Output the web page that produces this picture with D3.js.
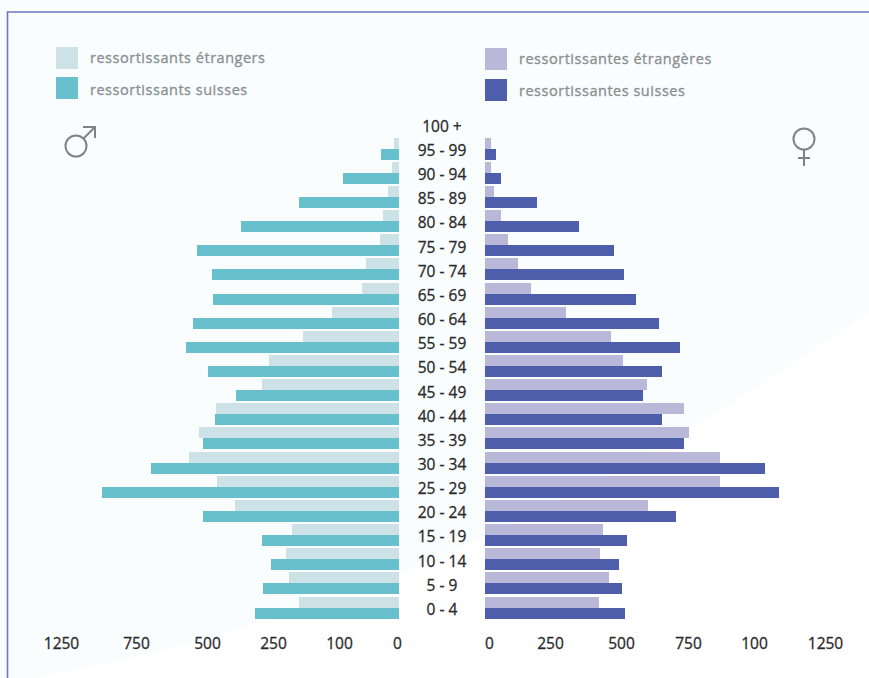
<!DOCTYPE html>
<html><head><meta charset="utf-8">
<script src="https://cdn.jsdelivr.net/npm/d3@7/dist/d3.min.js"></script>
<style>html,body{margin:0;padding:0;background:#fff;overflow:hidden}svg{display:block}text{font-family:"Open Sans",sans-serif}</style>
</head><body><script>
const ageGroups=["100 +","95 - 99","90 - 94","85 - 89","80 - 84","75 - 79","70 - 74","65 - 69","60 - 64","55 - 59","50 - 54","45 - 49","40 - 44","35 - 39","30 - 34","25 - 29","20 - 24","15 - 19","10 - 14","5 - 9","0 - 4"];
const menForeign=[0,19,26,41,60,71,123,138,250,358,485,511,683,746,784,679,612,399,422,410,373];
const menSwiss=[0,67,209,373,590,754,698,694,769,795,713,608,687,731,925,1108,731,511,478,507,537];
const womenForeign=[0,22,22,34,60,86,123,172,302,470,515,604,743,761,877,877,608,440,429,463,425];
const womenSwiss=[0,41,60,194,351,481,519,563,649,728,660,590,660,743,1045,1097,713,530,500,511,522];
const tickValues=[0,250,500,750,1000,1250];
const tickLabelsMen=["0","100","250","500","750","1250"];
const tickLabelsWomen=["0","250","500","750","100","1250"];
const legendMen=["ressortissants étrangers","ressortissants suisses"];
const legendWomen=["ressortissantes étrangères","ressortissantes suisses"];

const W=869,H=678;
const colors={mf:"#cde2e7",ms:"#68c0cd",wf:"#b9b8d8",ws:"#4f5eab"};
const svg=d3.select("body").append("svg").attr("width",W).attr("height",H);

svg.append("rect").attr("width",W).attr("height",H).attr("fill","#fff");
svg.append("path").attr("d","M0,0L869,0L869,312C700,430 420,610 33,678L0,678Z").attr("fill","#f9fdfe");
svg.append("path").attr("d","M869,12L7.5,12L7.5,678").attr("fill","none").attr("stroke","#6b78bb").attr("stroke-width",1.6);

const y=d3.scaleBand().domain(ageGroups).range([113.94,621.26]);
const sub=d3.scaleBand().domain(["foreign","swiss"]).range([0,22]);
const xMen=d3.scaleLinear().domain([0,1250]).range([399,64]);
const xWomen=d3.scaleLinear().domain([0,1250]).range([485,820]);

function bars(values,x,key,color){
  svg.append("g").attr("shape-rendering","crispEdges").selectAll("rect").data(values).join("rect")
    .attr("x",d=>Math.min(x(0),x(d)))
    .attr("width",d=>Math.abs(x(d)-x(0)))
    .attr("y",(d,i)=>Math.floor(y(ageGroups[i]))+sub(key))
    .attr("height",sub.bandwidth())
    .attr("fill",color);
}
bars(menForeign,xMen,"foreign",colors.mf);
bars(womenForeign,xWomen,"foreign",colors.wf);
bars(menSwiss,xMen,"swiss",colors.ms);
bars(womenSwiss,xWomen,"swiss",colors.ws);

svg.append("g").selectAll("text").data(ageGroups).join("text")
  .attr("x",442).attr("y",d=>y(d)+sub("swiss")+1.4)
  .attr("dy","0.35em").attr("text-anchor","middle")
  .attr("font-size",15.5).attr("fill","#2a2a2c").attr("stroke","#2a2a2c").attr("stroke-width",0.3).text(d=>d);

const axisMen=d3.scaleLinear().domain(tickValues).range([397,339,273,207,136,61]);
const axisWomen=d3.scaleLinear().domain(tickValues).range([489,550,621,688,754,825]);
[[axisMen,tickLabelsMen],[axisWomen,tickLabelsWomen]].forEach(([s,labels])=>{
  const g=svg.append("g").attr("transform","translate(0,632)")
    .call(d3.axisBottom(s).tickValues(tickValues).tickSize(0).tickPadding(0).tickFormat((d,i)=>labels[i]));
  g.select(".domain").remove();
  g.selectAll("text").attr("dy","1.1em").attr("font-size",15.5)
    .attr("fill","#2a2a2c").attr("stroke","#2a2a2c").attr("stroke-width",0.3).style("font-family",'"Open Sans",sans-serif');
});

function legend(labels,cols,xs,xt,ys,yt){
  const g=svg.append("g");
  g.selectAll("rect").data(labels).join("rect")
    .attr("x",xs).attr("y",(d,i)=>ys[i]).attr("width",22).attr("height",22).attr("fill",(d,i)=>cols[i]);
  g.selectAll("text").data(labels).join("text")
    .attr("x",xt).attr("y",(d,i)=>yt[i]).attr("dy","0.35em")
    .attr("font-size",14.5).attr("letter-spacing",0.52).attr("fill","#8a8e90").attr("stroke","#8a8e90").attr("stroke-width",0.3).text(d=>d);
}
legend(legendMen,[colors.mf,colors.ms],56,90,[47,77],[58,90]);
legend(legendWomen,[colors.wf,colors.ws],485,519,[48,79],[59,91]);

const sym=svg.append("g").attr("fill","none").attr("stroke","#808284").attr("stroke-width",2);
sym.append("circle").attr("cx",76).attr("cy",146).attr("r",10.5);
sym.append("path").attr("d","M83.5,138.5L95,127M83,127L95,127L95,138");
sym.append("circle").attr("cx",804).attr("cy",139).attr("r",10.5);
sym.append("path").attr("d","M804,150L804,166M798,158L810,158");
</script></body></html>
